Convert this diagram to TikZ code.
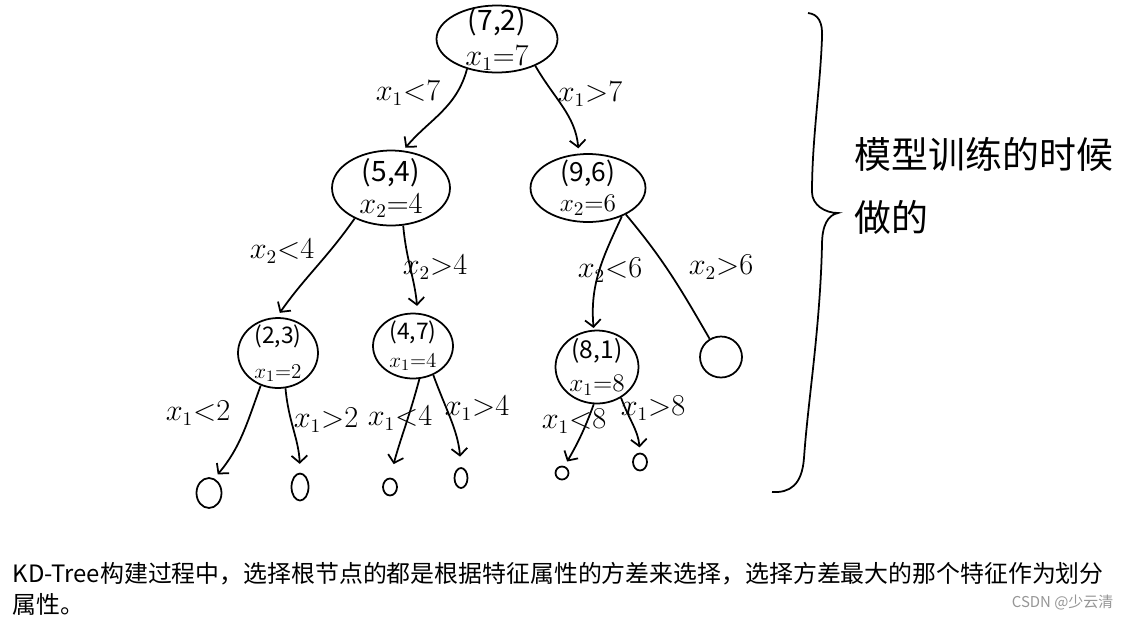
\documentclass[tikz,border=0pt]{standalone}
\usepackage{fontspec}
\setmainfont{Noto Sans CJK SC}
\usepackage{tikz}
\usetikzlibrary{arrows.meta,shapes.geometric}
\definecolor{gris}{RGB}{150,150,150}

\begin{document}
\begin{tikzpicture}[x=0.02cm, y=-0.02cm, line width=1pt,
    noeud/.style={draw, ellipse, inner sep=0pt},
    feuille/.style={draw, ellipse, inner sep=0pt},
    fleche/.style={-{Straight Barb[length=4pt,width=9pt]}},
    etiq/.style={font=\fontsize{16}{18}\selectfont}]
  \useasboundingbox[fill=white] (0,0) rectangle (1133,620);

  % Noeuds de l'arbre
  \node[noeud, minimum width=2.42cm, minimum height=1.34cm,
    label={[align=center, font=\fontsize{16}{20}\selectfont]center:{(7,2)\\$x_1{=}7$}}] (r72) at (497,39) {};
  \node[noeud, minimum width=2.36cm, minimum height=1.5cm,
    label={[align=center, font=\fontsize{16}{18}\selectfont]center:{(5,4)\\$x_2{=}4$}}] (n54) at (391,188) {};
  \node[noeud, minimum width=2.3cm, minimum height=1.36cm,
    label={[align=center, font=\fontsize{15}{17}\selectfont]center:{(9,6)\\$x_2{=}6$}}] (n96) at (588,188) {};
  \node[noeud, minimum width=1.6cm, minimum height=1.4cm,
    label={[align=center, font=\fontsize{13}{20}\selectfont]center:{(2,3)\\$x_1{=}2$}}] (n23) at (278,353) {};
  \node[noeud, minimum width=1.6cm, minimum height=1.3cm,
    label={[align=center, font=\fontsize{13}{16}\selectfont]center:{(4,7)\\$x_1{=}4$}}] (n47) at (413,346) {};
  \node[noeud, minimum width=1.66cm, minimum height=1.46cm,
    label={[align=center, font=\fontsize{14}{19}\selectfont]center:{(8,1)\\$x_1{=}8$}}] (n81) at (597,367) {};
  \node[noeud, minimum width=0.84cm, minimum height=0.82cm] (nil) at (721,357) {};

  % Feuilles
  \node[feuille, minimum width=0.5cm, minimum height=0.6cm] (l1) at (209,493) {};
  \node[feuille, minimum width=0.34cm, minimum height=0.54cm] (l2) at (300,487) {};
  \node[feuille, minimum width=0.28cm, minimum height=0.34cm] (l3) at (390,487) {};
  \node[feuille, minimum width=0.26cm, minimum height=0.4cm] (l4) at (461,478) {};
  \node[feuille, minimum width=0.26cm, minimum height=0.26cm] (l5) at (562,473) {};
  \node[feuille, minimum width=0.28cm, minimum height=0.34cm] (l6) at (640,462) {};

  % Aretes
  \draw[fleche, shorten >=2pt] (r72.-135) to[out=-105,in=50] (n54.72);
  \draw[fleche, shorten >=3pt] (r72.-35) to[out=-60,in=95] (n96.105);
  \draw[fleche, shorten >=3pt] (n54.-140) to[out=-125,in=55] (n23.92);
  \draw[fleche, shorten >=4pt] (n54.-72) to[out=-85,in=95] (n47.82);
  \draw[fleche, shorten >=1pt] (n96.-40) to[out=-115,in=95] (n81.95);
  \draw (n96.-35) to[out=-50,in=120] (nil.122);
  \draw[fleche, shorten >=3pt] (n23.-118) to[out=-110,in=50] (l1.70);
  \draw[fleche, shorten >=5pt] (n23.-78) to[out=-85,in=92] (l2.90);
  \draw[fleche, shorten >=8pt] (n47.-79) to[out=-105,in=75] (l3.90);
  \draw[fleche, shorten >=6pt] (n47.-55) to[out=-70,in=95] (l4.90);
  \draw[fleche, shorten >=3pt] (n81.-95) to[out=-110,in=60] (l5.70);
  \draw[fleche, shorten >=3pt] (n81.-52) to[out=-70,in=95] (l6.90);

  % Conditions
  \node[etiq] (e1) at (408,93) {$x_1{<}7$};
  \node[etiq] (e2) at (590,94) {$x_1{>}7$};
  \node[etiq] (e3) at (282,251) {$x_2{<}4$};
  \node[etiq] (e4) at (435,267) {$x_2{>}4$};
  \node[etiq] (e5) at (610,270) {$x_2{<}6$};
  \node[etiq] (e6) at (721,267) {$x_2{>}6$};
  \node[etiq] (e7) at (198,413) {$x_1{<}2$};
  \node[etiq] (e8) at (326,420) {$x_1{>}2$};
  \node[etiq] (e9) at (400,418) {$x_1{<}4$};
  \node[etiq] (e10) at (477,408) {$x_1{>}4$};
  \node[etiq] (e11) at (574,421) {$x_1{<}8$};
  \node[etiq] (e12) at (653,408) {$x_1{>}8$};

  % Accolade
  \draw (808,13) .. controls (818,14) and (823,22) .. (822,38)
    .. controls (820,90) and (812,140) .. (812,192)
    .. controls (812,205) and (825,213) .. (838,213)
    .. controls (828,215) and (822,225) .. (822,245)
    .. controls (820,330) and (808,400) .. (804,458)
    .. controls (802,485) and (790,493) .. (772,492);
  \node[anchor=west, align=left, font=\fontsize{21}{36}\selectfont] (note) at (848,186) {模型训练的时候\\做的};

  % Texte du bas
  \node[anchor=west, align=left, font=\fontsize{13.6}{18}\selectfont] (legende) at (6,589)
    {KD-Tree构建过程中，选择根节点的都是根据特征属性的方差来选择，选择方差最大的那个特征作为划分\\属性。};
  \node[anchor=east, text=gris, font=\fontsize{8.5}{10}\selectfont] (csdn) at (1120,603) {CSDN @少云清};
\end{tikzpicture}
\end{document}
